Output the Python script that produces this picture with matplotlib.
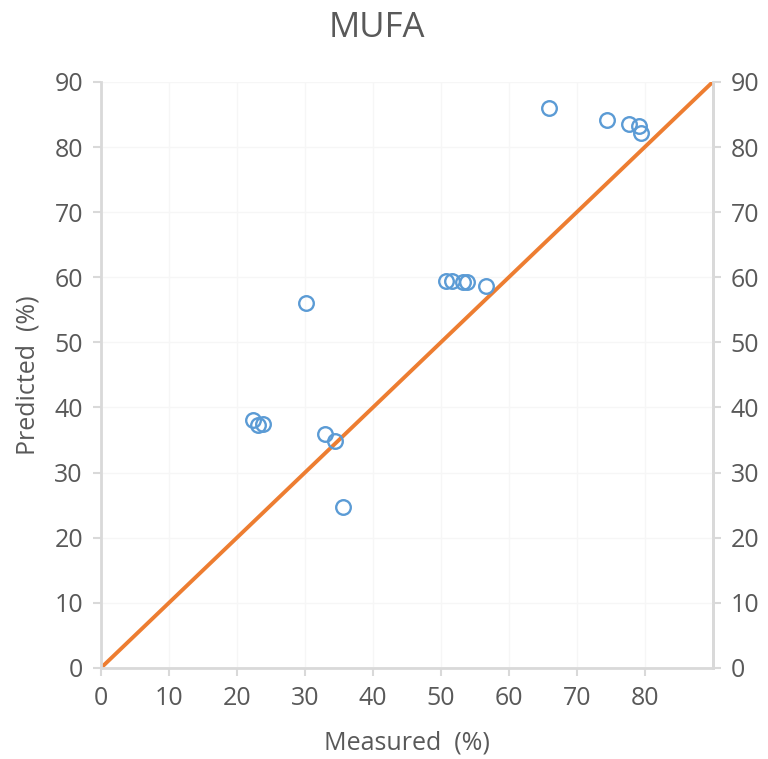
import matplotlib
matplotlib.use("Agg")
from matplotlib import pyplot as plt

# measured vs predicted MUFA (%)
measured = [65.9, 74.4, 77.7, 79.2, 79.5,
            50.8, 51.6, 53.2, 53.8, 56.6,
            30.1,
            22.4, 23.1, 23.9, 32.9, 34.4, 35.6]
predicted = [86.0, 84.2, 83.5, 83.2, 82.2,
             59.5, 59.5, 59.2, 59.2, 58.7,
             56.1,
             38.1, 37.3, 37.5, 36.0, 34.8, 24.7]
line_x = [0, 90]
line_y = [0, 90]
x_ticks = [0, 10, 20, 30, 40, 50, 60, 70, 80]
y_ticks = [0, 10, 20, 30, 40, 50, 60, 70, 80, 90]

plt.rcParams['font.family'] = ['Open Sans', 'DejaVu Sans']
grey = '#595959'
spine = '#d9d9d9'

fig = plt.figure(figsize=(7.68, 7.59), dpi=100)
ax = fig.add_axes([0.1315, 0.12, 0.7965, 0.772])

ax.plot(line_x, line_y, color='#ed7d31', lw=2.8, zorder=2)
ax.plot(measured, predicted, 'o', ms=10.5, mfc='none', mec='#5b9bd5', mew=1.7, zorder=3)

ax.set_xlim(0, 90)
ax.set_ylim(0, 90)
ax.set_xticks(x_ticks)
ax.set_yticks(y_ticks)
ax.grid(True, color='#f6f6f6', lw=1)
ax.set_axisbelow(True)

for s in ['left', 'bottom', 'right']:
    ax.spines[s].set_color(spine)
    ax.spines[s].set_linewidth(2.0)
ax.spines['top'].set_visible(False)

ax.tick_params(colors=spine, labelcolor=grey, labelsize=18, length=6, width=1.5, pad=7)

sec = ax.secondary_yaxis('right')
sec.set_yticks(y_ticks)
sec.spines['right'].set_color(spine)
sec.spines['right'].set_linewidth(2.0)
sec.tick_params(colors=spine, labelcolor=grey, labelsize=18, length=6, width=1.5, pad=7)

ax.set_xlabel('Measured  (%)', fontsize=18, color=grey, labelpad=14)
ax.set_ylabel('Predicted  (%)', fontsize=18, color=grey, labelpad=10)
fig.text(377 / 768, 1 - 28 / 759, 'MUFA', fontsize=25, color=grey, ha='center', va='center')

fig.savefig('out.png', dpi=100)
